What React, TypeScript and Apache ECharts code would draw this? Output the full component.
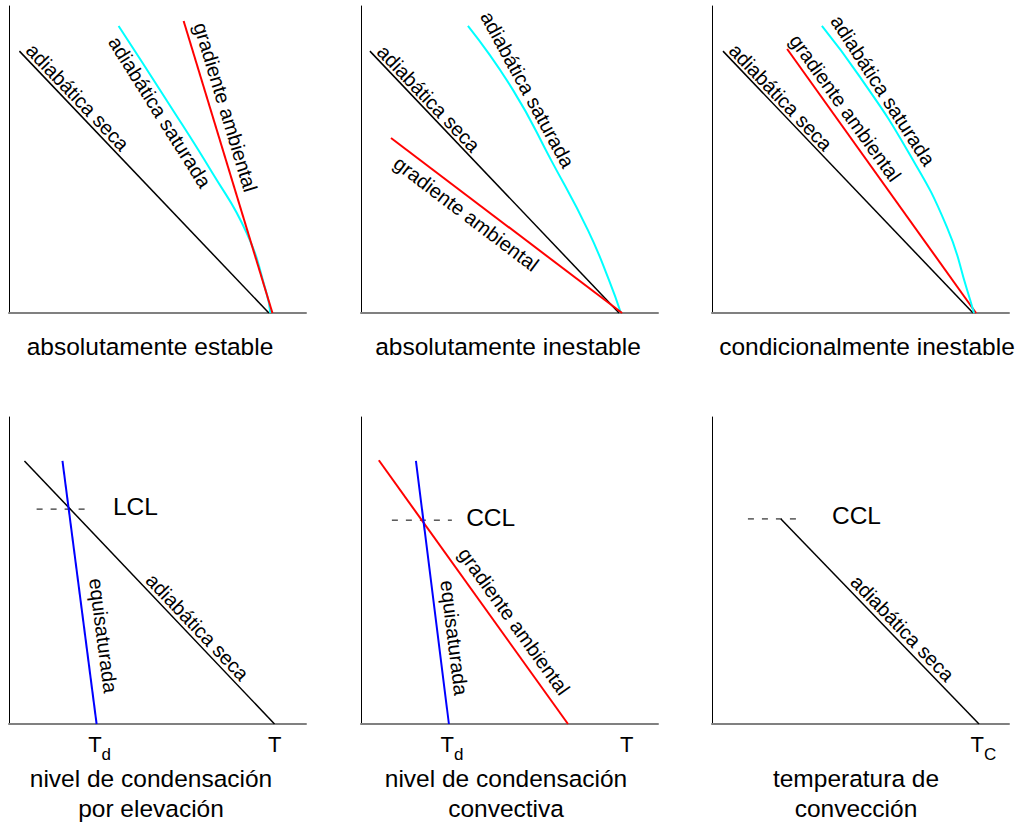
import React, { useEffect, useRef } from "react";
import * as echarts from "echarts";

// ---- data (axis units 0..100 in every panel) ----
const estableSeca = [[3.5, 85.3], [87.5, 0]];
const estableSaturada = [[36.9, 93.5], [53.0, 69.4], [68.5, 45.6], [80.0, 26.1], [86.7, 6.5], [88.0, 0]];
const estableAmbiental = [[58.8, 95.1], [88.7, 0]];

const inestableSeca = [[3.0, 85.3], [86.9, 0]];
const inestableSaturada = [[36.0, 93.5], [51.2, 72.6], [64.0, 49.8], [76.4, 27.0], [83.5, 10.7], [87.5, 0]];
const inestableAmbiental = [[10.1, 57.0], [87.9, 0]];

const condSeca = [[3.7, 85.3], [87.9, 0]];
const condAmbiental = [[25.3, 86.0], [88.9, 0]];
const condSaturada = [[37.0, 93.5], [49.8, 76.9], [65.7, 53.1], [79.1, 28.0], [85.9, 7.5], [88.2, 0]];

const lclSeca = [[5.2, 85.7], [89.4, 0]];
const lclEquisaturada = [[18.0, 85.7], [29.5, 0]];
const lclNivel = [[9.3, 70.0], [27.8, 70.0]];

const cclAmbiental = [[6.0, 85.9], [69.7, 0]];
const cclEquisaturada = [[18.5, 85.7], [29.6, 0]];
const cclNivel = [[10.4, 66.4], [30.6, 66.4]];

const tcSeca = [[23.2, 66.8], [89.9, 0]];
const tcNivel = [[12.1, 66.8], [30.6, 66.8]];

const temperaturaT = 89.5;

const topTitles = ["absolutamente estable", "absolutamente inestable", "condicionalmente inestable"];
const bottomTitles = ["nivel de condensación\npor elevación", "nivel de condensación\nconvectiva", "temperatura de\nconvección"];

// ---- styling / layout ----
const FONT = '"Liberation Sans", Arial, Helvetica, sans-serif';
const BLACK = "#000000";
const CYAN = "#00ffff";
const RED = "#ff0000";
const BLUE = "#0000ff";

const gridBoxes = [
  { left: 9, top: 6 },
  { left: 361, top: 6 },
  { left: 712, top: 6 },
  { left: 9, top: 417 },
  { left: 361, top: 417 },
  { left: 712, top: 417 },
];
const GW = 297;
const GH = 307;

type LineDef = { g: number; data: number[][]; color: string; w: number; smooth?: boolean; dashed?: boolean };

const LINES: LineDef[] = [
  { g: 0, data: estableSeca, color: BLACK, w: 1.5 },
  { g: 0, data: estableSaturada, color: CYAN, w: 2, smooth: true },
  { g: 0, data: estableAmbiental, color: RED, w: 2 },
  { g: 1, data: inestableSeca, color: BLACK, w: 1.5 },
  { g: 1, data: inestableSaturada, color: CYAN, w: 2, smooth: true },
  { g: 1, data: inestableAmbiental, color: RED, w: 2 },
  { g: 2, data: condSeca, color: BLACK, w: 1.5 },
  { g: 2, data: condAmbiental, color: RED, w: 2 },
  { g: 2, data: condSaturada, color: CYAN, w: 2, smooth: true },
  { g: 3, data: lclNivel, color: BLACK, w: 1, dashed: true },
  { g: 3, data: lclSeca, color: BLACK, w: 1.5 },
  { g: 3, data: lclEquisaturada, color: BLUE, w: 2 },
  { g: 4, data: cclNivel, color: BLACK, w: 1, dashed: true },
  { g: 4, data: cclAmbiental, color: RED, w: 2 },
  { g: 4, data: cclEquisaturada, color: BLUE, w: 2 },
  { g: 5, data: tcNivel, color: BLACK, w: 1, dashed: true },
  { g: 5, data: tcSeca, color: BLACK, w: 1.5 },
];

// labels along lines: line index, fraction along, normal offset (px, + = glyph-top side)
const LINE_LABELS = [
  { line: 0, text: "adiabática seca", frac: 0.203, off: 10.5 },
  { line: 1, text: "adiabática saturada", frac: 0.29, off: -12 },
  { line: 2, text: "gradiente ambiental", frac: 0.31, off: 15 },
  { line: 3, text: "adiabática seca", frac: 0.207, off: 10 },
  { line: 4, text: "adiabática saturada", frac: 0.26, off: 13 },
  { line: 5, text: "gradiente ambiental", frac: 0.365, off: -15 },
  { line: 6, text: "adiabática seca", frac: 0.202, off: 10 },
  { line: 7, text: "gradiente ambiental", frac: 0.252, off: 13 },
  { line: 8, text: "adiabática saturada", frac: 0.267, off: 12 },
  { line: 10, text: "adiabática seca", frac: 0.66, off: 11 },
  { line: 11, text: "equisaturada", frac: 0.673, off: 18 },
  { line: 13, text: "gradiente ambiental", frac: 0.646, off: 16 },
  { line: 14, text: "equisaturada", frac: 0.68, off: 16 },
  { line: 16, text: "adiabática seca", frac: 0.572, off: 11.5 },
];

const LEVEL_LABELS = [
  { g: 3, text: "LCL", at: [35.0, lclNivel[0][1]] },
  { g: 4, text: "CCL", at: [35.4, cclNivel[0][1]] },
  { g: 5, text: "CCL", at: [40.4, tcNivel[0][1]] },
];

const SUB_LABELS = [
  { g: 3, main: "T", sub: "d", x: lclEquisaturada[1][0] },
  { g: 4, main: "T", sub: "d", x: cclEquisaturada[1][0] },
  { g: 5, main: "T", sub: "C", x: tcSeca[1][0] },
];
const PLAIN_T = [
  { g: 3, x: temperaturaT },
  { g: 4, x: temperaturaT },
];

const topTitleX = [150, 508, 867];
const bottomTitleX = [151, 506, 856];

function along(pts: number[][], frac: number) {
  const lens: number[] = [];
  let total = 0;
  for (let i = 0; i < pts.length - 1; i++) {
    const l = Math.hypot(pts[i + 1][0] - pts[i][0], pts[i + 1][1] - pts[i][1]);
    lens.push(l);
    total += l;
  }
  let target = total * frac;
  for (let i = 0; i < lens.length; i++) {
    if (target <= lens[i] || i === lens.length - 1) {
      const f = lens[i] === 0 ? 0 : target / lens[i];
      const dx = pts[i + 1][0] - pts[i][0];
      const dy = pts[i + 1][1] - pts[i][1];
      return { x: pts[i][0] + dx * f, y: pts[i][1] + dy * f, a: Math.atan2(dy, dx) };
    }
    target -= lens[i];
  }
  return { x: pts[0][0], y: pts[0][1], a: 0 };
}

function txt(x: number, y: number, text: string, size: number, align: string, valign: string, rotation = 0, lineHeight?: number) {
  return {
    type: "text",
    x,
    y,
    rotation,
    silent: true,
    style: {
      text,
      font: `${size}px ${FONT}`,
      fill: "#000",
      align,
      verticalAlign: valign,
      textAlign: align,
      textVerticalAlign: valign,
      lineHeight: lineHeight,
    },
  };
}

export default function App() {
  const ref = useRef<HTMLDivElement>(null);
  useEffect(() => {
    if (!ref.current) return;
    const chart = echarts.init(ref.current, null, { renderer: "svg" });
    const grid = gridBoxes.map((b) => ({ left: b.left, top: b.top, width: GW, height: GH, containLabel: false }));
    const xAxis = gridBoxes.map((_, i) => ({
      type: "value",
      gridIndex: i,
      min: 0,
      max: 100,
      axisLine: { show: true, onZero: false, lineStyle: { color: "#808080", width: 2 } },
      axisTick: { show: false },
      axisLabel: { show: false },
      splitLine: { show: false },
    }));
    const yAxis = gridBoxes.map((_, i) => ({
      type: "value",
      gridIndex: i,
      min: 0,
      max: 100,
      axisLine: { show: true, onZero: false, lineStyle: { color: "#000000", width: 1 } },
      axisTick: { show: false },
      axisLabel: { show: false },
      splitLine: { show: false },
    }));
    const series = LINES.map((l) => ({
      type: "line",
      xAxisIndex: l.g,
      yAxisIndex: l.g,
      data: l.data,
      showSymbol: false,
      symbol: "none",
      smooth: l.smooth ? 0.5 : false,
      silent: true,
      lineStyle: { color: l.color, width: l.w, type: l.dashed ? [6, 8] : "solid" },
    }));
    chart.setOption({ animation: false, backgroundColor: "#ffffff", grid, xAxis, yAxis, series });

    const px = (g: number, p: number[]) => chart.convertToPixel({ gridIndex: g } as any, p) as number[];
    const graphics: any[] = [];

    LINE_LABELS.forEach((lb) => {
      const l = LINES[lb.line];
      const pts = l.data.map((p) => px(l.g, p));
      const pos = along(pts, lb.frac);
      const nx = Math.sin(pos.a);
      const ny = -Math.cos(pos.a);
      graphics.push(txt(pos.x + nx * lb.off, pos.y + ny * lb.off, lb.text, 20, "center", "middle", -pos.a));
    });

    LEVEL_LABELS.forEach((lb) => {
      const p = px(lb.g, lb.at);
      graphics.push(txt(p[0], p[1] - 3, lb.text, 24.5, "left", "middle"));
    });

    SUB_LABELS.forEach((lb) => {
      const p = px(lb.g, [lb.x, 0]);
      graphics.push(txt(p[0] + 5, p[1] + 20, lb.main, 22, "right", "middle"));
      graphics.push(txt(p[0] + 5, p[1] + 30, lb.sub, 17, "left", "middle"));
    });
    PLAIN_T.forEach((lb) => {
      const p = px(lb.g, [lb.x, 0]);
      graphics.push(txt(p[0], p[1] + 20, "T", 22, "center", "middle"));
    });

    topTitles.forEach((t, i) => graphics.push(txt(topTitleX[i], 346, t, 24.5, "center", "middle")));
    bottomTitles.forEach((t, i) => graphics.push(txt(bottomTitleX[i], 763.6, t, 24.5, "center", "top", 0, 30)));

    chart.setOption({ graphic: { elements: graphics } });
    return () => chart.dispose();
  }, []);
  return <div ref={ref} style={{ position: "absolute", left: 0, top: 0, width: 1021, height: 825 }} />;
}
